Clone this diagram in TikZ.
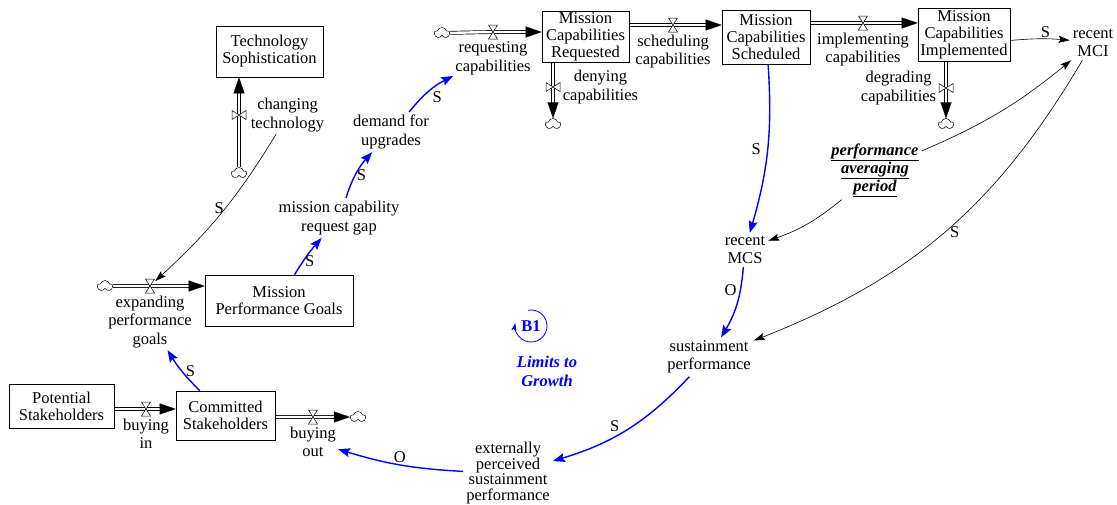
\documentclass[tikz,border=0pt]{standalone}
\usepackage{fontspec}
\setmainfont{Liberation Serif}
\usetikzlibrary{arrows.meta,backgrounds,positioning,shapes.symbols}
\tikzset{every picture/.style={
  >={Stealth[length=11pt,width=7pt,inset=2pt]}   % Vensim style arrows.
  }
}

\begin{document}
\begin{tikzpicture}[x=1pt,y=-1pt,
    txt/.style={                % Plain variable names.
      align=center,
      inner sep=2pt,
      font=\fontsize{16.5}{18.5}\selectfont
    },
    aux/.style={                % Auxiliary variables.
      txt,
      inner sep=3pt
    },
    tight/.style={              % Names squeezed into few lines.
      font=\fontsize{16.5}{15.5}\selectfont
    },
    stock/.style={              % Boxes denoting levels.
      rectangle,
      draw,
      line width=.6pt,
      align=center,
      inner sep=1pt,
      font=\fontsize{16.5}{17}\selectfont
    },
    cloudy/.style={             % Sources and sinks.
      cloud,
      draw,
      cloud puffs=5,
      cloud puff arc=150,
      aspect=1.3,
      minimum width=15pt,
      minimum height=11pt,
      inner sep=0pt,
      line width=.5pt
    },
    valveh/.style={             % Valve on a horizontal pipe.
      inner sep=0pt,
      minimum width=10pt,
      minimum height=15pt,
      path picture={\draw[fill=white,line width=.5pt]
        ([shift={(-4.5pt,7pt)}]path picture bounding box.center)
        -- ++(9pt,0pt) -- ++(-9pt,-14pt) -- ++(9pt,0pt) -- cycle;}
    },
    valvev/.style={             % Valve on a vertical pipe.
      inner sep=0pt,
      minimum width=15pt,
      minimum height=10pt,
      path picture={\draw[fill=white,line width=.5pt]
        ([shift={(-7pt,4.5pt)}]path picture bounding box.center)
        -- ++(0pt,-9pt) -- ++(14pt,9pt) -- ++(0pt,-9pt) -- cycle;}
    },
    pipe/.style={               % Flow pipes.
      draw=none,
      preaction={draw,double=white,double distance=2.4pt,
        line width=.7pt,shorten >=14pt},
      postaction={draw=white,line width=.2pt,
        -{Triangle[length=16pt,width=11pt,color=black]}}
    },
    infl/.style={               % Causal links.
      ->,
      line width=.6pt
    },
    binfl/.style={              % Links of the balancing loop.
      ->,
      blue,
      line width=1.4pt,
      >={Stealth[length=12pt,width=9pt,inset=2pt]}
    },
    pol/.style={                % Link polarity.
      inner sep=1pt,
      text=black,
      font=\fontsize{16.5}{16}\selectfont
    }]

    \useasboundingbox (0,0) rectangle (1117,504);

    % Levels.
    \node[stock,minimum width=107pt,minimum height=51pt] (ts) at (269.5,51.5)
      {Technology\\Sophistication};
    \node[stock,minimum width=148pt,minimum height=51pt] (mpg) at (279,300.5)
      {Mission\\Performance Goals};
    \node[stock,minimum width=105pt,minimum height=44pt] (pot) at (61.5,406)
      {Potential\\Stakeholders};
    \node[stock,minimum width=99pt,minimum height=49pt] (com) at (225.5,415.5)
      {Committed\\Stakeholders};
    \node[stock,minimum width=87pt,minimum height=51pt] (mcr) at (585.5,36.5)
      {Mission\\Capabilities\\Requested};
    \node[stock,minimum width=88pt,minimum height=54pt] (mcs) at (766,37)
      {Mission\\Capabilities\\Scheduled};
    \node[stock,minimum width=92pt,minimum height=53pt] (mci) at (964,34.5)
      {Mission\\Capabilities\\Implemented};

    % Sources and sinks.
    \node[cloudy] (creq) at (442,33) {};
    \node[cloudy] (cdeny) at (553,124) {};
    \node[cloudy] (cdeg) at (946,124) {};
    \node[cloudy] (cchg) at (239,173) {};
    \node[cloudy] (cexp) at (105,286) {};
    \node[cloudy] (cbout) at (358,417) {};

    % Valves and their names.
    \node[valveh] (vreq) at (493,32) {};
    \node[valveh] (vsch) at (673,25) {};
    \node[valveh] (vimp) at (863,23) {};
    \node[valvev] (vdeny) at (553,87) {};
    \node[valvev] (vdeg) at (946,88) {};
    \node[valvev] (vchg) at (239,115) {};
    \node[valveh] (vexp) at (150,286) {};
    \node[valveh] (vbin) at (146,409) {};
    \node[valveh] (vbout) at (313,417) {};

    \node[txt] (lreq) [below=0pt of vreq] {requesting\\capabilities};
    \node[txt] (lsch) [below=0pt of vsch] {scheduling\\capabilities};
    \node[txt] (limp) [below=0pt of vimp] {implementing\\capabilities};
    \node[txt] (ldeny) [right=0pt of vdeny] {denying\\capabilities};
    \node[txt] (ldeg) [left=0pt of vdeg] {degrading\\capabilities};
    \node[txt] (lchg) [right=2pt of vchg] {changing\\technology};
    \node[txt] (lexp) [below=0pt of vexp] {expanding\\performance\\goals};
    \node[txt] (lbin) [below=0pt of vbin] {buying\\in};
    \node[txt] (lbout) [below=0pt of vbout] {buying\\out};

    % Pipes, behind the valves.
    \begin{scope}[on background layer]
      \draw[pipe] (creq) -- (vreq.center) -- (vreq.center -| mcr.west);
      \draw[pipe] (vsch.center -| mcr.east) -- (vsch.center -| mcs.west);
      \draw[pipe] (vimp.center -| mcs.east) -- (vimp.center -| mci.west);
      \draw[pipe] (vdeny.center |- mcr.south) -- (vdeny.center) -- (cdeny);
      \draw[pipe] (vdeg.center |- mci.south) -- (vdeg.center) -- (cdeg);
      \draw[pipe] (cchg) -- (vchg.center) -- (vchg.center |- ts.south);
      \draw[pipe] (cexp) -- (vexp.center) -- (vexp.center -| mpg.west);
      \draw[pipe] (vbin.center -| pot.east) -- (vbin.center -| com.west);
      \draw[pipe] (vbout.center -| com.east) -- (vbout.center) -- (cbout);
    \end{scope}

    % Auxiliaries.
    \node[aux] (gap) at (339,218) {mission capability\\request gap};
    \node[aux] (dmd) at (391,132) {demand for\\upgrades};
    \node[aux] (rmci) at (1093,43) {recent\\MCI};
    \node[aux] (rmcs) at (745,250) {recent\\MCS};
    \node[aux] (sust) at (709,357) {sustainment\\performance};
    \node[aux,tight] (epsp) at (508,473)
      {externally\\perceived\\sustainment\\performance};
    \node[aux,font=\fontsize{16.5}{15}\selectfont\bfseries\itshape] (pap) at (875,170)
      {\underline{performance}\\\underline{averaging}\\\underline{period}};

    % Loop marker.
    \node[inner sep=0pt,text=blue,font=\fontsize{16.5}{16}\selectfont\bfseries]
      (b1) at (531,326) {B1};
    \draw[->,blue,line width=.8pt,>={Stealth[length=7pt,width=5pt,inset=1pt]}]
      ([shift={(100:16pt)}]b1.center) arc[start angle=100,end angle=-190,radius=16pt];
    \node[txt,text=blue,font=\fontsize{16.5}{19}\selectfont\bfseries\itshape]
      (ltg) at (547,371) {Limits to\\Growth};

    % Causal links.
    \draw[infl] (lchg) to[bend left=8]
      node[pol,pos=.47,anchor=east] (pchg) {S} (vexp);
    \draw[binfl] (mpg) to[bend left=5]
      node[pol,pos=.35,anchor=west] (pmpg) {S} (gap);
    \draw[binfl] (gap) to[bend left=12]
      node[pol,pos=.45,anchor=west] (pgap) {S} (dmd);
    \draw[binfl] (dmd) to[bend left=12]
      node[pol,pos=.55,anchor=north west] (pdmd) {S} (lreq);
    \draw[binfl] (mcs) to[bend left=10]
      node[pol,pos=.5,left=5pt] (pmcs) {S} (rmcs);
    \draw[infl] (pap) to[bend left=10] (rmcs);
    \draw[infl] (pap) to[bend right=8] (rmci);
    \draw[infl] ([yshift=-6pt]mci.east) to[bend left=5]
      node[pol,pos=.6,above=0pt] (pmci) {S} (rmci);
    \draw[infl] (rmci) to[bend left=19]
      node[pol,pos=.5,right=4pt] (prmci) {S} (sust);
    \draw[binfl] (rmcs) to[bend left=13]
      node[pol,pos=.3,left=2pt] (prmcs) {O} (sust);
    \draw[binfl] (sust) to[bend left=15]
      node[pol,pos=.55,above left] (psust) {S} (epsp);
    \draw[binfl] (epsp) to[bend left=7]
      node[pol,midway,above] (pepsp) {O} (lbout);
    \draw[binfl] (com) to[bend left=7]
      node[pol,midway,right=2pt] (pcom) {S} (lexp);
\end{tikzpicture}
\end{document}
